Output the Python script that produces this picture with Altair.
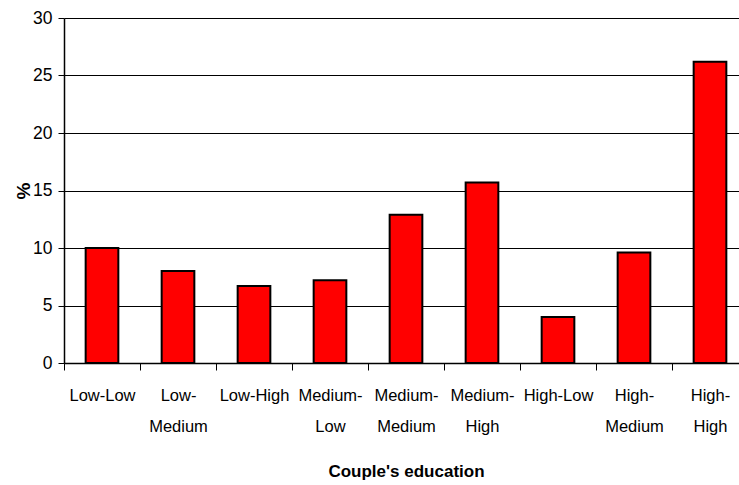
import altair as alt
import pandas as pd

categories = ["Low-Low", "Low-Medium", "Low-High", "Medium-Low", "Medium-Medium",
              "Medium-High", "High-Low", "High-Medium", "High-High"]
values = [10.0, 8.0, 6.7, 7.2, 12.9, 15.7, 4.0, 9.6, 26.2]
y_ticks = [0, 5, 10, 15, 20, 25, 30]

df = pd.DataFrame({"cat": categories, "pct": values})

FONT = "Liberation Sans"

label_expr = (
    "!isValid(datum.value) ? '' : "
    "indexof(['Low-Low','Low-High','High-Low'], datum.value) >= 0 ? datum.value : "
    "[split(datum.value,'-')[0] + '-', split(datum.value,'-')[1]]"
)

chart = alt.Chart(df).mark_bar(
    color="#ff0000", stroke="black", strokeWidth=2, width=alt.RelativeBandSize(0.43)
).encode(
    x=alt.X("cat:N", sort=categories,
            scale=alt.Scale(paddingInner=0, paddingOuter=0, range=[0, 684]),
            axis=alt.Axis(title="Couple's education", labelAngle=0, labelExpr=label_expr,
                          tickBand="extent", tickSize=7, labelPadding=17,
                          labelLineHeight=31, titleY=108, titleBaseline="middle",
                          labelFontSize=16.5, titleFontSize=17, titleFontWeight="bold")),
    y=alt.Y("pct:Q", scale=alt.Scale(domain=[0, 30]),
            axis=alt.Axis(title="%", values=y_ticks, tickSize=6, labelPadding=6,
                          titleX=-35, titleY=172.5, titleBaseline="alphabetic",
                          titleAlign="center", titleAngle=270,
                          labelFontSize=17.5, titleFontSize=19,
                          titleFontWeight="bold", grid=True, gridColor="black",
                          gridWidth=1)),
).properties(
    width=675, height=345,
    autosize="none",
    padding={"left": 64, "top": 18, "right": 0, "bottom": 122},
).configure_axis(
    domainColor="black", tickColor="black", labelColor="black", titleColor="black",
    labelFont=FONT, titleFont=FONT, domainWidth=1.5, tickWidth=1,
).configure_axisX(grid=False).configure_view(stroke=None)

chart.save("out.html", embed_options={"renderer": "svg", "actions": False})
